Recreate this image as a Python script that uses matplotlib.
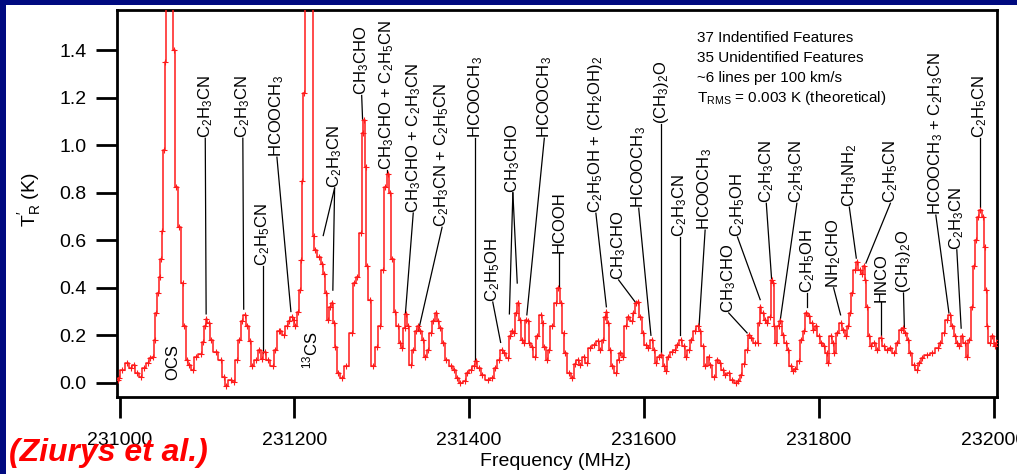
import numpy as np
import matplotlib
matplotlib.use("Agg")
import matplotlib.pyplot as plt
from matplotlib.patches import Rectangle

plt.rcParams['font.family'] = ['Liberation Sans', 'DejaVu Sans']
plt.rcParams['mathtext.default'] = 'regular'

# spectrum: offset from 231000 MHz, and T_R (K)
freq_off = [-2, -1, 3, 9, 13, 16, 20, 24, 28, 32, 35, 38, 40, 42, 44, 46, 47, 49, 51, 52,
            53, 57, 61, 62, 65, 68, 72, 74, 77, 79, 84, 87, 93, 95, 98, 99, 102, 104, 110, 116,
            119, 122, 127, 131, 134, 137, 140, 143, 146, 149, 152, 156, 160, 163, 166, 170, 175, 178, 182, 184,
            188, 191, 194, 197, 199, 201, 204, 206, 208, 209, 211, 213, 217, 220, 222, 224, 228, 232, 234, 236,
            239, 241, 243, 245, 247, 250, 255, 259, 266, 268, 272, 276, 278, 279.5, 281.5, 283, 286, 290, 294, 298,
            301, 304, 307, 309, 312, 315, 318, 321, 323, 326, 328, 330, 333, 336, 339, 341, 344, 347, 350, 353,
            356, 359, 362, 364, 367, 370, 374, 379, 383, 386, 390, 395, 398, 402, 405, 408, 411, 415, 421, 426,
            430, 434, 437, 440, 444, 447, 449, 451, 454, 456, 458, 461, 463, 465, 467, 469, 472, 475, 478, 482,
            484, 486, 489, 491, 495, 499, 502, 505, 508, 510, 514, 518, 521, 524, 527, 531, 535, 538, 543, 547,
            550, 553, 555, 557, 559, 561, 564, 568, 571, 573, 576, 579, 582, 586, 588, 591, 593, 596, 599, 602,
            605, 609, 611, 614, 617, 620, 623, 625, 628, 632, 635, 638, 642, 646, 648, 651, 654, 658, 662, 664,
            667, 670, 674, 676, 680, 684, 687, 690, 693, 697, 701, 705, 708, 711, 714, 718, 720, 723, 727, 730,
            731.5, 733, 736, 738, 741, 744, 746, 747.5, 749, 751, 754, 756, 759, 762, 765, 768, 770, 773, 777, 780,
            783, 786, 789, 792, 794, 797, 800, 803, 806, 809, 811, 813.5, 816, 818, 821, 825, 828, 831, 834, 836,
            838, 841, 844, 847, 849, 851.5, 853.5, 855.5, 857, 860, 863, 867, 871, 874.5, 878, 882, 886, 890, 894, 896,
            899, 902, 905, 909, 912, 915, 918, 924, 930, 936, 939, 943, 947, 950, 953, 956, 958.5, 961, 964, 967,
            970, 972.5, 975, 977.5, 980, 982.5, 985, 988, 990, 991.5, 993, 995.5, 998.5, 1001.5, 1003, 1006]
t_r = [0.01, 0.02, 0.055, 0.083, 0.062, 0.076, 0.04, 0.026, 0.062, 0.083, 0.104, 0.11, 0.18, 0.293, 0.377, 0.447, 0.52, 0.64, 0.98, 1.35,
       1.75, 2.2, 1.75, 1.40, 0.825, 0.657, 0.42, 0.237, 0.097, 0.076, 0.055, 0.11, 0.12, 0.17, 0.237, 0.27, 0.25, 0.18, 0.13, 0.097,
       0.026, -0.015, 0.013, 0.005, 0.097, 0.18, 0.258, 0.286, 0.237, 0.174, 0.069, 0.097, 0.139, 0.10, 0.13, 0.097, 0.069, 0.139, 0.216, 0.22,
       0.20, 0.237, 0.258, 0.279, 0.265, 0.237, 0.30, 0.39, 0.517, 0.85, 1.22, 1.7, 2.1, 1.7, 0.62, 0.56, 0.53, 0.50, 0.46, 0.38,
       0.265, 0.32, 0.335, 0.25, 0.15, 0.04, 0.02, 0.07, 0.21, 0.42, 0.447, 0.63, 1.05, 1.105, 0.91, 0.49, 0.35, 0.07, 0.15, 0.237,
       0.475, 0.825, 0.88, 0.80, 0.52, 0.30, 0.237, 0.167, 0.145, 0.23, 0.29, 0.237, 0.076, 0.139, 0.22, 0.237, 0.22, 0.18, 0.11, 0.139,
       0.21, 0.258, 0.293, 0.258, 0.23, 0.167, 0.097, 0.069, 0.055, 0.02, 0.0, 0.006, 0.04, 0.055, 0.069, 0.09, 0.062, 0.034, 0.013, 0.02,
       0.062, 0.097, 0.139, 0.125, 0.104, 0.195, 0.22, 0.21, 0.293, 0.335, 0.265, 0.18, 0.167, 0.265, 0.258, 0.167, 0.15, 0.11, 0.195, 0.286,
       0.25, 0.15, 0.097, 0.139, 0.237, 0.335, 0.398, 0.335, 0.21, 0.125, 0.04, 0.02, 0.08, 0.097, 0.076, 0.11, 0.083, 0.146, 0.16, 0.174,
       0.139, 0.18, 0.279, 0.30, 0.25, 0.139, 0.069, 0.04, 0.097, 0.125, 0.11, 0.237, 0.279, 0.258, 0.293, 0.335, 0.34, 0.279, 0.209, 0.16,
       0.146, 0.18, 0.139, 0.083, 0.11, 0.118, 0.069, 0.048, 0.11, 0.13, 0.139, 0.16, 0.18, 0.153, 0.11, 0.139, 0.18, 0.216, 0.237, 0.22,
       0.153, 0.069, 0.11, 0.076, 0.026, 0.097, 0.083, 0.055, 0.034, 0.04, 0.013, 0.0, 0.006, 0.034, 0.08, 0.139, 0.20, 0.19, 0.167, 0.167,
       0.25, 0.32, 0.293, 0.265, 0.25, 0.279, 0.433, 0.42, 0.237, 0.167, 0.237, 0.258, 0.2, 0.167, 0.139, 0.069, 0.048, 0.06, 0.09, 0.18,
       0.22, 0.293, 0.28, 0.25, 0.223, 0.237, 0.195, 0.167, 0.153, 0.125, 0.083, 0.195, 0.167, 0.125, 0.21, 0.25, 0.223, 0.195, 0.237, 0.293,
       0.377, 0.475, 0.51, 0.475, 0.46, 0.49, 0.433, 0.32, 0.195, 0.153, 0.167, 0.139, 0.188, 0.153, 0.139, 0.146, 0.125, 0.167, 0.223, 0.23,
       0.21, 0.18, 0.125, 0.076, 0.055, 0.083, 0.104, 0.118, 0.125, 0.146, 0.167, 0.209, 0.265, 0.286, 0.237, 0.195, 0.167, 0.153, 0.195, 0.167,
       0.11, 0.18, 0.32, 0.49, 0.60, 0.70, 0.727, 0.70, 0.573, 0.39, 0.237, 0.167, 0.195, 0.153, 0.167, 0.18]

# line identifications: text, text x (MHz), text bottom (K), leader tips [(MHz, K), ...]
ids = [
    ('OCS', 231061, 0.013, []),
    ('C$_2$H$_3$CN', 231098, 1.03, [(231099, 0.29)]),
    ('C$_2$H$_3$CN', 231141, 1.03, [(231142, 0.31)]),
    ('C$_2$H$_5$CN', 231164, 0.49, [(231164, 0.125)]),
    ('HCOOCH$_3$', 231180, 0.95, [(231196, 0.30)]),
    ('$^{13}$CS', 231218, 0.06, []),
    ('C$_2$H$_3$CN', 231246, 0.82, [(231233, 0.62), (231244, 0.39)]),
    ('CH$_3$CHO', 231277, 1.21, [(231278, 1.11)]),
    ('CH$_3$CHO + C$_2$H$_5$CN', 231306, 0.895, [(231306, 0.88)]),
    ('CH$_3$CHO + C$_2$H$_3$CN', 231336, 0.715, [(231327, 0.29)]),
    ('C$_2$H$_3$CN + C$_2$H$_5$CN', 231369, 0.655, [(231342, 0.22)]),
    ('HCOOCH$_3$', 231407, 1.03, [(231407, 0.09)]),
    ('C$_2$H$_5$OH', 231427, 0.34, [(231436, 0.17)]),
    ('CH$_3$CHO', 231450, 0.80, [(231446, 0.29), (231455, 0.42)]),
    ('HCOOCH$_3$', 231486, 1.03, [(231466, 0.286)]),
    ('HCOOH', 231503, 0.546, [(231503, 0.40)]),
    ('C$_2$H$_5$OH + (CH$_2$OH)$_2$', 231545, 0.714, [(231557, 0.32)]),
    ('CH$_3$CHO', 231571, 0.433, [(231590, 0.34)]),
    ('HCOOCH$_3$', 231594, 0.735, [(231608, 0.20)]),
    ('(CH$_3$)$_2$O', 231620, 1.09, [(231620, 0.125)]),
    ('C$_2$H$_3$CN', 231641, 0.614, [(231641, 0.20)]),
    ('HCOOCH$_3$', 231670, 0.643, [(231663, 0.236)]),
    ('CH$_3$CHO', 231697, 0.294, [(231718, 0.21)]),
    ('C$_2$H$_5$OH', 231707, 0.614, [(231733, 0.35)]),
    ('C$_2$H$_3$CN', 231740, 0.756, [(231746, 0.44)]),
    ('C$_2$H$_3$CN', 231775, 0.756, [(231756, 0.265)]),
    ('C$_2$H$_5$OH', 231787, 0.38, [(231787, 0.32)]),
    ('NH$_2$CHO', 231817, 0.40, [(231825, 0.286)]),
    ('CH$_3$NH$_2$', 231835, 0.74, [(231843, 0.525)]),
    ('C$_2$H$_5$CN', 231882, 0.756, [(231854, 0.504)]),
    ('HNCO', 231871, 0.34, [(231871, 0.195)]),
    ('(CH$_3$)$_2$O', 231897, 0.378, [(231898, 0.23)]),
    ('HCOOCH$_3$ + C$_2$H$_3$CN', 231934, 0.706, [(231949, 0.294)]),
    ('C$_2$H$_3$CN', 231958, 0.56, [(231963, 0.23)]),
    ('C$_2$H$_5$CN', 231984, 1.03, [(231984, 0.74)]),
]

notes = ['37 Indentified Features', '35 Unidentified Features',
         '~6 lines per 100 km/s', 'T$_{RMS}$ = 0.003 K (theoretical)']

freq = 231000 + np.array(freq_off)

fig = plt.figure(figsize=(10.17, 4.74), dpi=100, facecolor='#000a80')
fig.patches.append(Rectangle((6 / 1017, 0), 1, 1 - 5 / 474, transform=fig.transFigure,
                             facecolor='white', edgecolor='none', zorder=-1))
ax = fig.add_axes([117 / 1017, 77 / 474, 880 / 1017, 387 / 474])

ax.plot(freq, t_r, color='#ff1a1a', lw=1.1, drawstyle='steps-mid',
        marker='+', ms=4, mew=0.8, zorder=3)

for txt, tx, ty, tips in ids:
    ax.text(tx, ty, txt, rotation=90, ha='center', va='bottom', fontsize=12)
    for fx, fy in tips:
        ax.plot([tx, fx], [ty, fy], color='black', lw=0.9, zorder=2)

for i, s in enumerate(notes):
    ax.text(0.659, 0.928 - i * 0.0517, s, transform=ax.transAxes, fontsize=11,
            ha='left', va='center')

ax.set_xlim(230997, 232004)
ax.set_ylim(-0.06, 1.57)
ax.set_xticks(np.arange(231000, 232001, 200))
ax.set_yticks(np.arange(0, 1.41, 0.2))
ax.set_yticklabels([f'{v:.1f}' for v in np.arange(0, 1.41, 0.2)])
ax.tick_params(direction='out', length=15, width=2, labelsize=14)
ax.tick_params(axis='x', pad=10)
ax.tick_params(axis='y', pad=7)
for sp in ax.spines.values():
    sp.set_linewidth(2)

fig.text(30 / 1017, 1 - 200 / 474, "T$_R^{\\prime}$ (K)", rotation=90,
         ha='center', va='center', fontsize=14)
fig.text(556 / 1017, 1 - 462 / 474, 'Frequency (MHz)', ha='center', va='center', fontsize=14)
fig.text(9 / 1017, 1 - 453 / 474, '(Ziurys et al.)', color='#ff0000', fontsize=23,
         fontweight='bold', fontstyle='italic', ha='left', va='center')

fig.savefig('out.png', dpi=100, facecolor=fig.get_facecolor())
